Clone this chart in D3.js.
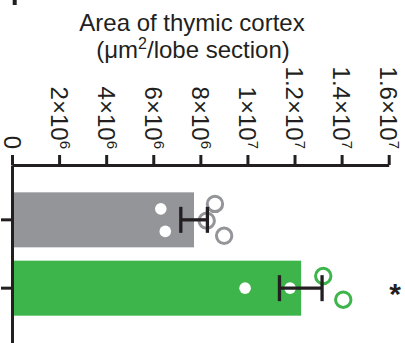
<!DOCTYPE html>
<html><head><meta charset="utf-8">
<script src="https://cdn.jsdelivr.net/npm/d3@7"></script>
<style>
html,body{margin:0;padding:0;background:#fff;}
svg{display:block;font-family:"Liberation Sans",Arial,sans-serif;}
</style></head>
<body><svg id="chart" width="405" height="343"></svg>
<script>
// ---- data ----
const groups = ["Control", "Treated"];
const barMeans = [7.73e6, 1.228e7];
const errLow = [7.17e6, 1.136e7];
const errHigh = [8.30e6, 1.317e7];
const filledPts = [[6.32e6, 6.51e6], [9.90e6, 1.181e7]];
const openPts = [[8.62e6, 8.27e6, 9.01e6], [1.322e7, 1.407e7]];
// vertical jitter of each point, in fractions of bar thickness
const filledJitter = [[-0.2, 0.21], [0, 0]];
const openJitter = [[-0.29, 0.015, 0.29], [-0.22, 0.21]];
const tickValues = [0, 2e6, 4e6, 6e6, 8e6, 1e7, 1.2e7, 1.4e7, 1.6e7];
const significance = ["", "*"];
const titleLines = ["Area of thymic cortex", "(μm²/lobe section)"];

const barColors = ["#939598", "#3db54a"];
const ink = "#231f20";

const svg = d3.select("#chart");
const x = d3.scaleLinear().domain([0, 1.6e7]).range([12, 388.7]);
const y = d3.scaleBand().domain(groups).range([165, 343]).paddingInner(0.195).paddingOuter(0.4);
const bw = y.bandwidth();

// top-left cut-off panel mark
svg.append("rect").attr("x", 12.7).attr("y", 0).attr("width", 4).attr("height", 5).attr("fill", ink);

// title
const title = svg.append("text").attr("x", 192).attr("y", 31).attr("text-anchor", "middle")
  .attr("font-size", 24).attr("fill", ink);
title.append("tspan").attr("x", 192).text(titleLines[0]);
const l2 = svg.append("text").attr("x", 193).attr("y", 58).attr("text-anchor", "middle")
  .attr("font-size", 24).attr("fill", ink);
l2.append("tspan").text("(μm");
l2.append("tspan").attr("font-size", 16).attr("dy", -9).text("2");
l2.append("tspan").attr("dy", 9).text("/lobe section)");

// bars
const bars = svg.append("g");
bars.selectAll("rect").data(groups).join("rect")
  .attr("x", x(0)).attr("y", d => y(d))
  .attr("width", (d, i) => x(barMeans[i]) - x(0))
  .attr("height", bw)
  .attr("fill", (d, i) => barColors[i]);

// points
groups.forEach((g, i) => {
  const cy0 = y(g) + bw / 2;
  svg.append("g").selectAll("circle").data(filledPts[i]).join("circle")
    .attr("cx", d => x(d)).attr("cy", (d, j) => cy0 + filledJitter[i][j] * bw)
    .attr("r", 5.8).attr("fill", "#fff");
  svg.append("g").selectAll("circle").data(openPts[i]).join("circle")
    .attr("cx", d => x(d)).attr("cy", (d, j) => cy0 + openJitter[i][j] * bw)
    .attr("r", 7.7).attr("fill", "none").attr("stroke", barColors[i]).attr("stroke-width", 3);
});

// error bars
const eb = svg.append("g").attr("stroke", ink).attr("stroke-width", 3.3);
groups.forEach((g, i) => {
  const cy = y(g) + bw / 2;
  const capH = 13;
  eb.append("line").attr("x1", x(errLow[i])).attr("x2", x(errHigh[i])).attr("y1", cy).attr("y2", cy);
  [errLow[i], errHigh[i]].forEach(v => {
    eb.append("line").attr("x1", x(v)).attr("x2", x(v)).attr("y1", cy - capH).attr("y2", cy + capH);
  });
});

// significance
svg.append("g").selectAll("text").data(groups).join("text")
  .attr("x", 395).attr("y", d => y(d) + bw / 2 + 16)
  .attr("text-anchor", "middle").attr("font-size", 30).attr("font-weight", "bold")
  .attr("fill", ink)
  .text((d, i) => significance[i]);

// x axis (top)
const xAxis = svg.append("g").attr("transform", "translate(0,165)")
  .call(d3.axisTop(x).tickValues(tickValues).tickSize(10).tickSizeOuter(0).tickFormat(""));
xAxis.selectAll("path,line").attr("stroke", ink).attr("stroke-width", 3);

function fmt(v) {
  if (v === 0) return ["0", null];
  const e = Math.floor(Math.log10(v));
  const m = +(v / Math.pow(10, e)).toFixed(2);
  return [m + "×10", String(e)];
}
const labels = svg.append("g").selectAll("text").data(tickValues).join("text")
  .attr("transform", d => `translate(${x(d)},149) rotate(90)`)
  .attr("text-anchor", "end").attr("dy", "0.35em")
  .attr("font-size", 24).attr("fill", ink);
labels.each(function(d) {
  const [base, exp] = fmt(d);
  const t = d3.select(this);
  t.append("tspan").text(base);
  if (exp) t.append("tspan").attr("font-size", 15).attr("dy", "-0.6em").text(exp);
});

// y axis (left)
const yAxis = svg.append("g").attr("transform", "translate(12,0)")
  .call(d3.axisLeft(y).tickSize(11).tickSizeOuter(0).tickFormat(""));
yAxis.selectAll("path,line").attr("stroke", ink).attr("stroke-width", 3);
</script></body></html>
